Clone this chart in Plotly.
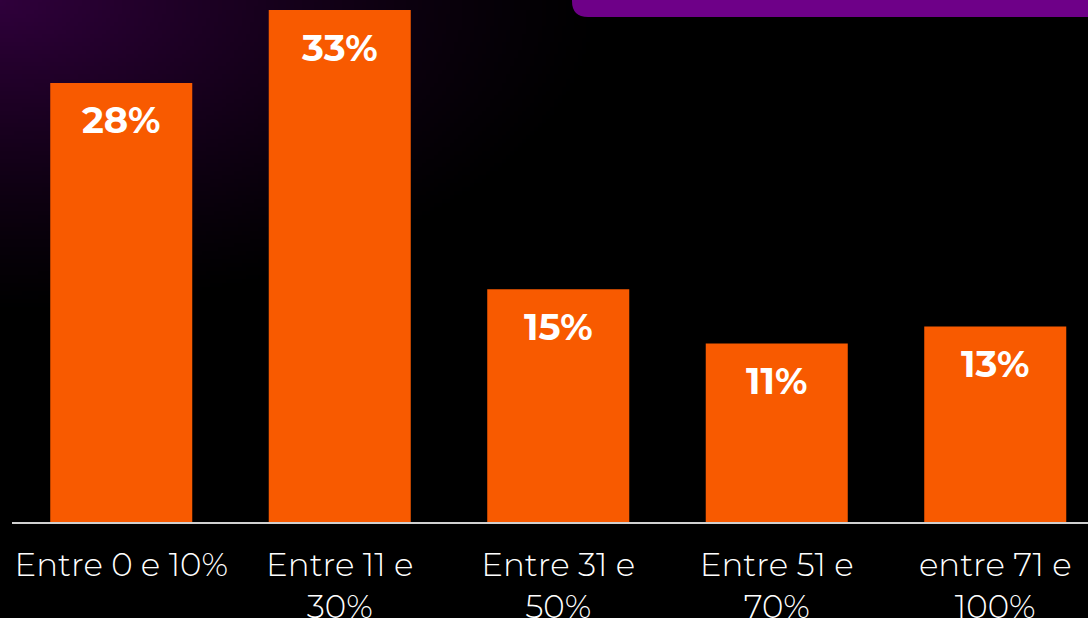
import base64, struct, zlib, math
import plotly.graph_objects as go

categories = ["Entre 0 e 10%", "Entre 11 e<br>30%", "Entre 31 e<br>50%", "Entre 51 e<br>70%", "entre 71 e<br>100%"]
values = [28.3, 33.0, 15.0, 11.5, 12.6]
labels = ["28%", "33%", "15%", "11%", "13%"]

W, H = 1088, 618
ML, MR, MT, MB = 12, 0, 0, 96
BAR_COLOR = "#F85A00"


def make_png(w, h, fn):
    raw = bytearray()
    for y in range(h):
        raw.append(0)
        for x in range(w):
            raw.extend(fn(x, y))
    def chunk(t, d):
        c = struct.pack(">I", len(d)) + t + d
        return c + struct.pack(">I", zlib.crc32(t + d) & 0xffffffff)
    png = b"\x89PNG\r\n\x1a\n" + chunk(b"IHDR", struct.pack(">IIBBBBB", w, h, 8, 2, 0, 0, 0))
    png += chunk(b"IDAT", zlib.compress(bytes(raw), 9)) + chunk(b"IEND", b"")
    return "data:image/png;base64," + base64.b64encode(png).decode()


S = 4
def grad(px, py):
    x, y = px * S, py * S
    d = math.sqrt((x / 620) ** 2 + (y / 320) ** 2)
    t = max(0.0, 1 - d) ** 1.3
    return bytes([int(48 * t), 0, int(60 * t)])

bg = make_png(W // S, H // S, grad)

fig = go.Figure()
fig.add_trace(go.Bar(x=list(range(len(values))), y=values, marker=dict(color=BAR_COLOR, line=dict(width=0)),
                     hoverinfo="skip"))

pw = W - ML - MR
ph = H - MT - MB
for i, (v, lab) in enumerate(zip(values, labels)):
    fig.add_annotation(x=i, y=v, text=lab, showarrow=False, yshift=-37, yanchor="middle",
                       font=dict(family="Montserrat, Open Sans, sans-serif", size=37, color="white", weight=700))

# background gradient
fig.add_layout_image(source=bg, xref="paper", yref="paper", x=-ML / pw, y=1 + MT / ph,
                     sizex=W / pw, sizey=H / ph, sizing="stretch", xanchor="left", yanchor="top",
                     layer="below")

# purple rounded banner at top right
x0 = (572 - ML) / pw
x1 = 1.0
yb = 1 - 17 / ph
rx = 16 / pw
ry = 16 / ph
path = (f"M {x0},1 L {x0},{yb + ry} Q {x0},{yb} {x0 + rx},{yb} L {x1},{yb} L {x1},1 Z")
fig.add_shape(type="path", path=path, xref="paper", yref="paper", fillcolor="#6E0088",
              line=dict(width=0), layer="above")

px_per_unit = 512 / 33.0
ymax = ph / px_per_unit
bar_spacing = 218.5
xmax = -0.5 + pw / bar_spacing

fig.update_layout(
    width=W, height=H,
    margin=dict(l=ML, r=MR, t=MT, b=MB, autoexpand=False),
    paper_bgcolor="black", plot_bgcolor="rgba(0,0,0,0)",
    bargap=0.35, showlegend=False,
    xaxis=dict(range=[-0.5, xmax], tickmode="array", tickvals=list(range(len(categories))),
               ticktext=categories, tickangle=0, showgrid=False, zeroline=False,
               showline=True, linecolor="#d0d0d0", linewidth=1.5, ticks="",
               ticklabelstandoff=13, automargin=False,
               tickfont=dict(family="Montserrat, Lato, Open Sans, sans-serif", size=32.5, color="white", weight=300)),
    yaxis=dict(range=[0, ymax], visible=False, showgrid=False, zeroline=False, automargin=False),
)

fig.write_html("out.html", config={"displayModeBar": False},
               post_script="document.body.style.margin='0';document.body.style.background='black';")
